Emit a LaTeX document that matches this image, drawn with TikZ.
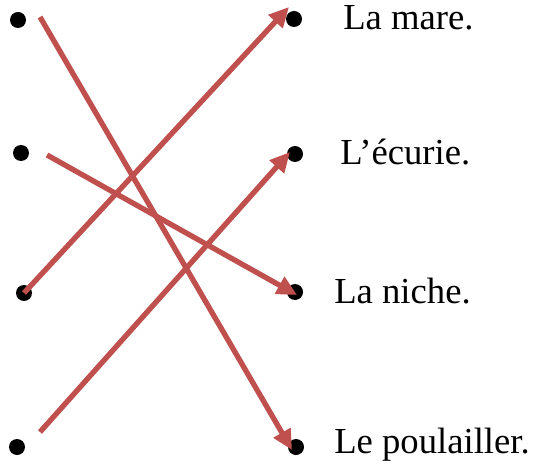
\documentclass[tikz,border=0pt]{standalone}
\usepackage{fontspec}
\setmainfont{Liberation Serif}
\usetikzlibrary{arrows.meta}
\definecolor{linkred}{RGB}{192,80,77}

\begin{document}
\begin{tikzpicture}[
    x=0.75pt, y=-0.75pt,
    every node/.style={font=\fontsize{27.5}{32}\selectfont},
    dot/.style={circle, fill=black, inner sep=0pt, minimum size=12pt},
    word/.style={anchor=base west, inner sep=0pt},
    link/.style={draw=linkred, line width=4pt, line cap=butt,
        -{Triangle[length=15pt, width=14pt]}}
]
\useasboundingbox (0,0) rectangle (534,466);

% Left column of dots
\node[dot] (l1) at (18,20) {};
\node[dot] (l2) at (21,153) {};
\node[dot] (l3) at (24,293) {};
\node[dot] (l4) at (17,447) {};

% Right column of dots
\node[dot] (r1) at (294,19) {};
\node[dot] (r2) at (295,154) {};
\node[dot] (r3) at (295,292) {};
\node[dot] (r4) at (296,447) {};

% Place names
\node[word] (mare) at (343,30) {La mare.};
\node[word] (ecurie) at (340,165) {L’écurie.};
\node[word] (niche) at (334,303) {La niche.};
\node[word] (poulailler) at (334,453) {Le poulailler.};

% Loose ends of the arrows
\coordinate (s1) at (40,17);
\coordinate (s2) at (47,155);
\coordinate (s4) at (40,432);
\coordinate (t1) at (292,450);
\coordinate (t2) at (297,295);
\coordinate (t3) at (289,7);
\coordinate (t4) at (290,152);

% Matching arrows
\draw[link] (s1) -- (t1);
\draw[link] (s2) -- (t2);
\draw[link] (l3.center) -- (t3);
\draw[link] (s4) -- (t4);

\end{tikzpicture}
\end{document}
